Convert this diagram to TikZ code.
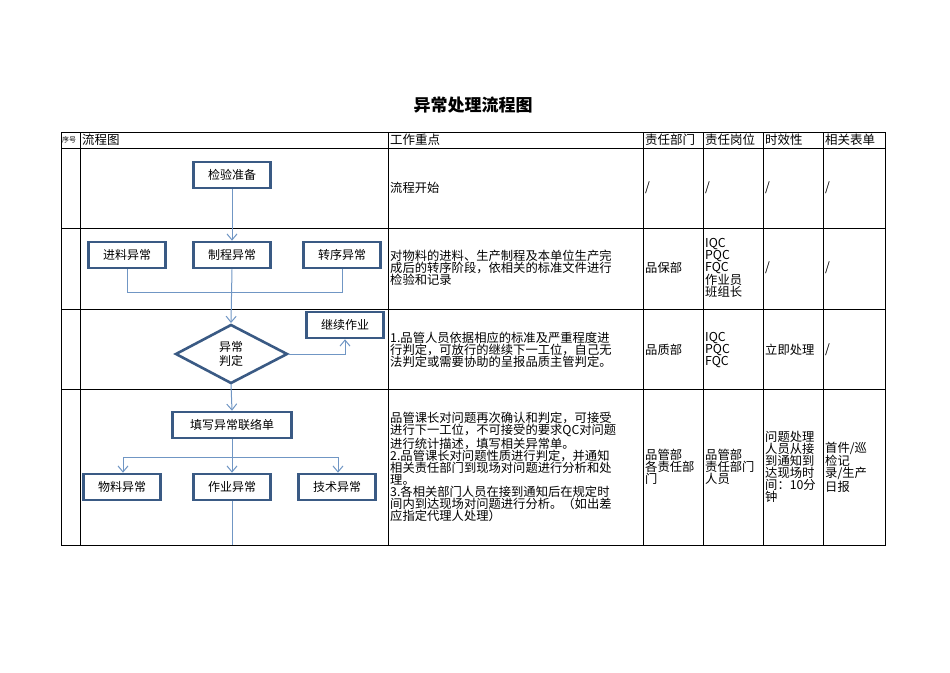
\documentclass[tikz,border=0pt]{standalone}
\usepackage{fontspec}
\newfontfamily\cjk{Noto Sans CJK SC}
\usetikzlibrary{arrows.meta}
\definecolor{boxc}{HTML}{3A5A84}
\definecolor{linec}{HTML}{7096C4}
\tikzset{
 fbox/.style={draw=boxc,line width=2.6pt,fill=white,minimum width=77pt,minimum height=26pt,inner sep=0pt,font=\cjk\fontsize{12}{12}\selectfont},
 conn/.style={draw=linec,line width=1pt},
 arr/.style={conn,-{Straight Barb[length=6pt,width=10pt]}},
 cell/.style={anchor=west,align=left,inner sep=0pt,font=\cjk\fontsize{12.3}{12}\selectfont},
 grid/.style={line width=1pt}
}
\begin{document}
\begin{tikzpicture}[x=1pt,y=-1pt]
\useasboundingbox (0,0) rectangle (950,672);
\node[font=\cjk\bfseries\fontsize{17}{17}\selectfont] (title) at (473,105) {异常处理流程图};
% table
\draw[grid] (61,132) rectangle (885,545);
\foreach \y in {148,228,309,389} \draw[grid] (61,\y) -- (885,\y);
\foreach \x in {80,388,643,703,763,823} \draw[grid] (\x,132) -- (\x,545);
\node[cell,font=\cjk\fontsize{7}{7}\selectfont] (h0) at (62,140) {序号};
\node[cell,font=\cjk\fontsize{12.5}{12}\selectfont] (h1) at (82,140) {流程图};
\node[cell,font=\cjk\fontsize{12.5}{12}\selectfont] (h2) at (390,140) {工作重点};
\node[cell,font=\cjk\fontsize{12.5}{12}\selectfont] (h3) at (645,140) {责任部门};
\node[cell,font=\cjk\fontsize{12.5}{12}\selectfont] (h4) at (705,140) {责任岗位};
\node[cell,font=\cjk\fontsize{12.5}{12}\selectfont] (h5) at (765,140) {时效性};
\node[cell,font=\cjk\fontsize{12.5}{12}\selectfont] (h6) at (825,140) {相关表单};
% row1
\node[cell] (r1a) at (390,188) {流程开始};
\node[cell] (r1b) at (645,188) {/};
\node[cell] (r1c) at (705,188) {/};
\node[cell] (r1d) at (765,188) {/};
\node[cell] (r1e) at (825,188) {/};
% row2
\node[cell] (r2a) at (390,268) {对物料的进料、生产制程及本单位生产完\\成后的转序阶段，依相关的标准文件进行\\检验和记录};
\node[cell] (r2b) at (645,268) {品保部};
\node[cell] (r2c) at (705,268) {IQC\\PQC\\FQC\\作业员\\班组长};
\node[cell] (r2d) at (765,268) {/};
\node[cell] (r2e) at (825,268) {/};
% row3
\node[cell] (r3a) at (390,350) {1.品管人员依据相应的标准及严重程度进\\行判定，可放行的继续下一工位，自己无\\法判定或需要协助的呈报品质主管判定。};
\node[cell] (r3b) at (645,350) {品质部};
\node[cell] (r3c) at (705,350) {IQC\\PQC\\FQC};
\node[cell] (r3d) at (765,350) {立即处理};
\node[cell] (r3e) at (825,350) {/};
% row4
\node[cell] (r4a) at (390,467) {品管课长对问题再次确认和判定，可接受\\进行下一工位，不可接受的要求QC对问题\\进行统计描述，填写相关异常单。\\2.品管课长对问题性质进行判定，并通知\\相关责任部门到现场对问题进行分析和处\\理。\\3.各相关部门人员在接到通知后在规定时\\间内到达现场对问题进行分析。（如出差\\应指定代理人处理）};
\node[cell] (r4b) at (645,467) {品管部\\各责任部\\门};
\node[cell] (r4c) at (705,467) {品管部\\责任部门\\人员};
\node[cell] (r4d) at (765,467) {问题处理\\人员从接\\到通知到\\达现场时\\间：10分\\钟};
\node[cell] (r4e) at (825,467) {首件/巡\\检记\\录/生产\\日报};
% flow
\node[fbox] (prep) at (232,175) {检验准备};
\node[fbox] (in) at (127,255) {进料异常};
\node[fbox] (proc) at (232,255) {制程异常};
\node[fbox] (trans) at (342,255) {转序异常};
\draw[draw=boxc,line width=2.6pt,fill=white] (176,354) -- (231,325) -- (287,354) -- (231,383) -- cycle;
\node[font=\cjk\fontsize{12}{14}\selectfont,align=center] (dtext) at (231,354) {异常\\判定};
\coordinate (dtop) at (231,323);
\coordinate (dright) at (288,354);
\coordinate (dbot) at (231,384);
\node[fbox] (cont) at (345,325) {继续作业};
\node[fbox,minimum width=119pt] (fill) at (232,425) {填写异常联络单};
\node[fbox] (mat) at (122,487) {物料异常};
\node[fbox] (op) at (232,487) {作业异常};
\node[fbox] (tech) at (337,487) {技术异常};
\coordinate (end) at (232,545);
\coordinate (bl) at (123,457);
\coordinate (br) at (338,457);
\draw[arr] (prep.south) -- (proc.north);
\draw[conn] (in.south) -- (127,292) -- (342,292) -- (trans.south);
\draw[arr] (proc.south) -- (dtop);
\draw[arr] (dright) -| (cont.south);
\draw[arr] (dbot) -- (fill.north);
\draw[conn] (fill.south) -- (232,457);
\draw[conn] (bl) -- (br);
\draw[arr] (bl) -- (bl |- mat.north);
\draw[arr] (232,457) -- (op.north);
\draw[arr] (br) -- (br |- tech.north);
\draw[conn] (op.south) -- (end);
\end{tikzpicture}
\end{document}
